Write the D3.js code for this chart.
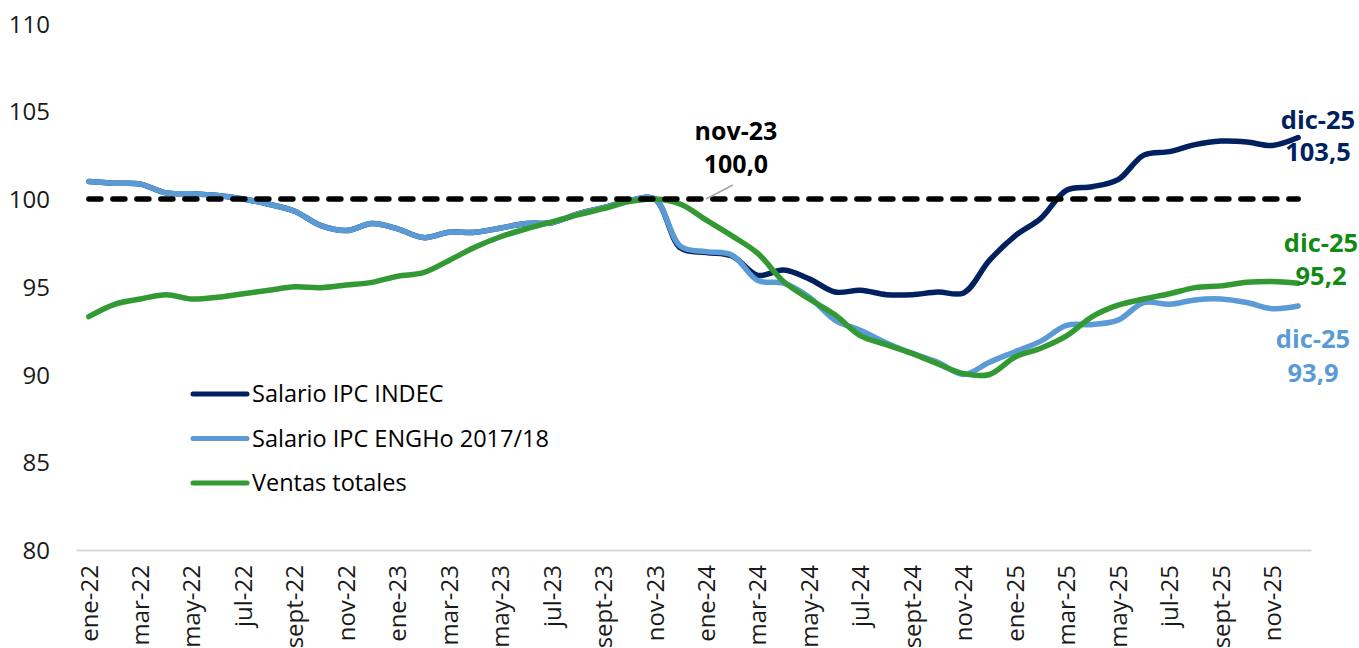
<!DOCTYPE html>
<html>
<head>
<meta charset="utf-8">
<script src="https://cdn.jsdelivr.net/npm/d3@7"></script>
<style>
  body { margin: 0; background: #fff; }
  text { font-family: "Open Sans", "Noto Sans", sans-serif; }
</style>
</head>
<body>
<div id="chart"></div>
<script>
var w = 1359;
var h = 648;

/* data */
var months = [
	"ene-22","feb-22","mar-22","abr-22","may-22","jun-22","jul-22","ago-22","sept-22","oct-22","nov-22","dic-22",
	"ene-23","feb-23","mar-23","abr-23","may-23","jun-23","jul-23","ago-23","sept-23","oct-23","nov-23","dic-23",
	"ene-24","feb-24","mar-24","abr-24","may-24","jun-24","jul-24","ago-24","sept-24","oct-24","nov-24","dic-24",
	"ene-25","feb-25","mar-25","abr-25","may-25","jun-25","jul-25","ago-25","sept-25","oct-25","nov-25","dic-25"
];

var salarioIndec = [
	101.0,100.9,100.85,100.35,100.3,100.2,100.0,99.7,99.3,98.5,98.2,98.6,
	98.3,97.8,98.1,98.1,98.35,98.6,98.65,99.15,99.5,99.9,100.0,97.2,
	96.95,96.75,95.65,95.95,95.45,94.7,94.8,94.55,94.55,94.7,94.65,96.5,
	97.9,98.9,100.5,100.7,101.1,102.5,102.7,103.1,103.3,103.25,103.05,103.5
];

var salarioEngho = [
	101.0,100.9,100.85,100.35,100.3,100.2,100.0,99.7,99.3,98.5,98.2,98.6,
	98.3,97.8,98.1,98.1,98.35,98.6,98.65,99.15,99.5,99.9,100.0,97.3,
	97.0,96.8,95.35,95.2,94.4,93.1,92.5,91.8,91.2,90.7,90.0,90.7,
	91.3,91.9,92.8,92.85,93.1,94.1,94.0,94.25,94.3,94.1,93.75,93.9
];

var ventasTotales = [
	93.3,94.0,94.3,94.55,94.3,94.4,94.6,94.8,95.0,94.95,95.1,95.25,
	95.6,95.8,96.5,97.25,97.85,98.3,98.7,99.1,99.45,99.85,100.0,99.7,
	98.8,97.9,96.9,95.3,94.3,93.4,92.2,91.7,91.2,90.6,90.05,90.0,
	91.0,91.5,92.2,93.3,93.95,94.3,94.6,94.95,95.05,95.25,95.3,95.2
];

var baseLevel = 100;
var baseMonth = "nov-23";
var yTicks = [80, 85, 90, 95, 100, 105, 110];

var series = [
	{ name: "Salario IPC INDEC", values: salarioIndec, color: "#002060", labelColor: "#002060" },
	{ name: "Salario IPC ENGHo 2017/18", values: salarioEngho, color: "#5b9bd5", labelColor: "#5b9bd5" },
	{ name: "Ventas totales", values: ventasTotales, color: "#339933", labelColor: "#138a13" }
];

var xScale = d3.scaleBand()
	.domain(months)
	.range([76, 1311]);

var yScale = d3.scaleLinear()
	.domain([80, 110])
	.range([550, 23.5]);

function cx(m) { return xScale(m) + xScale.bandwidth() / 2; }

var fmt = function (v) { return d3.format(".1f")(v).replace(".", ","); };

var svg = d3.select("#chart").append("svg").attr("width", w).attr("height", h);

/* y axis, labels only */
var yAxis = d3.axisLeft(yScale).tickValues(yTicks).tickSize(0).tickPadding(0);
var yG = svg.append("g")
	.attr("transform", "translate(50,0)")
	.call(yAxis);
yG.select(".domain").remove();
yG.selectAll("text")
	.style("font-size", "24px")
	.attr("fill", "#1a1a1a")
	.attr("dy", "0.36em");

/* x axis */
var xAxis = d3.axisBottom(xScale)
	.tickValues(months.filter(function (d, i) { return i % 2 == 0; }))
	.tickSize(0)
	.tickSizeOuter(0);
var xG = svg.append("g")
	.attr("transform", "translate(0,550)")
	.call(xAxis);
xG.select(".domain").attr("stroke", "#d9d9d9").attr("stroke-width", 2);
xG.selectAll("text")
	.style("font-size", "24px")
	.attr("fill", "#1a1a1a")
	.attr("transform", "rotate(-90)")
	.attr("text-anchor", "end")
	.attr("x", -15)
	.attr("y", 0)
	.attr("dy", "0.36em");

/* series lines */
var line = d3.line()
	.x(function (d, i) { return cx(months[i]); })
	.y(function (d) { return yScale(d); })
	.curve(d3.curveCatmullRom.alpha(0.5));

svg.selectAll("path.serie").data(series).enter()
	.append("path")
	.attr("class", "serie")
	.attr("d", function (d) { return line(d.values); })
	.attr("fill", "none")
	.attr("stroke", function (d) { return d.color; })
	.attr("stroke-width", 5.5)
	.attr("stroke-linecap", "round")
	.attr("stroke-linejoin", "round");

/* base 100 dashed line */
svg.append("line")
	.attr("x1", cx(months[0]))
	.attr("x2", cx(months[months.length - 1]))
	.attr("y1", yScale(baseLevel))
	.attr("y2", yScale(baseLevel))
	.attr("stroke", "#000")
	.attr("stroke-width", 5.5)
	.attr("stroke-linecap", "round")
	.attr("stroke-dasharray", "12,12");

/* nov-23 label */
var bx = cx(baseMonth) + 81;
svg.append("line")
	.attr("x1", bx - 30).attr("y1", yScale(baseLevel))
	.attr("x2", bx - 3).attr("y2", yScale(baseLevel) - 14)
	.attr("stroke", "#a6a6a6")
	.attr("stroke-width", 1.5);
svg.append("text")
	.attr("x", bx).attr("y", 131)
	.attr("dy", "0.36em")
	.attr("text-anchor", "middle")
	.style("font-size", "25px").style("font-weight", "bold")
	.attr("fill", "#000")
	.text(baseMonth);
svg.append("text")
	.attr("x", bx).attr("y", 164)
	.attr("dy", "0.36em")
	.attr("text-anchor", "middle")
	.style("font-size", "25px").style("font-weight", "bold")
	.attr("fill", "#000")
	.text(fmt(baseLevel));

/* end labels */
var endPos = [[120, 152], [339, 373], [243, 276]];
var endX = [1318, 1313, 1321];
series.forEach(function (s, i) {
	var last = months.length - 1;
	svg.append("text")
		.attr("x", endX[i]).attr("y", endPos[i][0])
		.attr("dy", "0.36em")
		.attr("text-anchor", "middle")
		.style("font-size", "25.5px").style("font-weight", "bold")
		.attr("fill", s.labelColor)
		.text(months[last]);
	svg.append("text")
		.attr("x", endX[i]).attr("y", endPos[i][1])
		.attr("dy", "0.36em")
		.attr("text-anchor", "middle")
		.style("font-size", "25.5px").style("font-weight", "bold")
		.attr("fill", s.labelColor)
		.text(fmt(s.values[last]));
});

/* legend */
var legend = svg.selectAll("g.legend").data(series).enter()
	.append("g")
	.attr("class", "legend")
	.attr("transform", function (d, i) { return "translate(193," + (394 + i * 44.5) + ")"; });
legend.append("line")
	.attr("x1", 0).attr("x2", 54)
	.attr("stroke", function (d) { return d.color; })
	.attr("stroke-width", 5)
	.attr("stroke-linecap", "round");
legend.append("text")
	.attr("x", 59)
	.attr("dy", "0.36em")
	.style("font-size", "23.5px")
	.attr("fill", "#000")
	.text(function (d) { return d.name; });
</script>
</body>
</html>
